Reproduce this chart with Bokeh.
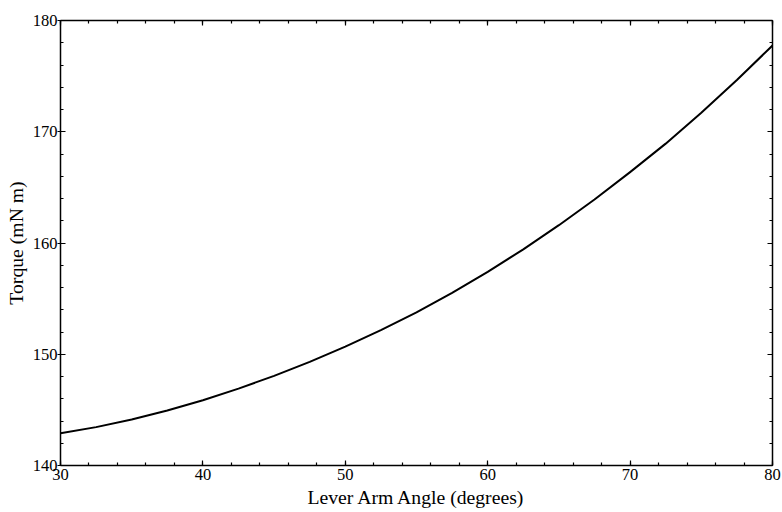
from bokeh.plotting import figure
from bokeh.models import LinearAxis, SingleIntervalTicker, Range1d, CustomJSTickFormatter
from bokeh.embed import file_html
from bokeh.resources import INLINE

# Data
angle_deg = [30, 32.5, 35, 37.5, 40, 42.5, 45, 47.5, 50, 52.5, 55,
             57.5, 60, 62.5, 65, 67.5, 70, 72.5, 75, 77.5, 80]
torque_mNm = [142.9, 143.45, 144.13, 144.94, 145.87, 146.91, 148.06, 149.32,
              150.69, 152.17, 153.77, 155.52, 157.41, 159.43, 161.60, 163.91,
              166.37, 168.93, 171.70, 174.65, 177.75]
x_range = (30, 80)
y_range = (140, 180)
x_label = "Lever Arm Angle (degrees)"
y_label = "Torque (mN m)"

FONT = "Liberation Serif"

p = figure(width=782, height=512, output_backend="svg", toolbar_location=None,
           x_range=Range1d(*x_range), y_range=Range1d(*y_range),
           x_axis_location=None, y_axis_location=None,
           min_border_left=60, min_border_right=10, min_border_top=20,
           min_border_bottom=47)
p.outline_line_color = None
p.xgrid.visible = False
p.ygrid.visible = False
p.background_fill_color = "white"
p.border_fill_color = "white"

p.line(angle_deg, torque_mNm, line_color="black", line_width=2, line_join="round")


def style(ax, labels=True):
    ax.axis_line_color = "black"
    ax.axis_line_width = 1.5
    ax.major_tick_line_color = "black"
    ax.minor_tick_line_color = "black"
    ax.major_tick_line_width = 1.2
    ax.minor_tick_line_width = 1.2
    ax.major_tick_in = 5
    ax.major_tick_out = 0
    ax.minor_tick_in = 3
    ax.minor_tick_out = 0
    if labels:
        ax.major_label_text_font = FONT
        ax.major_label_text_font_size = "16.5px"
        ax.major_label_text_color = "black"
        ax.axis_label_text_font = FONT
        ax.axis_label_text_font_size = "19.7px"
        ax.axis_label_text_font_style = "normal"
        ax.axis_label_text_color = "black"
    else:
        ax.formatter = CustomJSTickFormatter(code="return ''")
        ax.major_label_standoff = 0


bottom = LinearAxis(ticker=SingleIntervalTicker(interval=10, num_minor_ticks=5),
                    axis_label=x_label)
style(bottom)
bottom.major_label_standoff = 3
bottom.axis_label_standoff = 3
p.add_layout(bottom, "below")

left = LinearAxis(ticker=SingleIntervalTicker(interval=10, num_minor_ticks=5),
                  axis_label=y_label)
style(left)
left.major_tick_out = 3
left.major_label_standoff = 0
left.axis_label_standoff = 3
p.add_layout(left, "left")

top = LinearAxis(ticker=SingleIntervalTicker(interval=10, num_minor_ticks=5))
style(top, labels=False)
p.add_layout(top, "above")

right = LinearAxis(ticker=SingleIntervalTicker(interval=10, num_minor_ticks=5))
style(right, labels=False)
p.add_layout(right, "right")

open("out.html", "w").write(file_html(p, INLINE))
